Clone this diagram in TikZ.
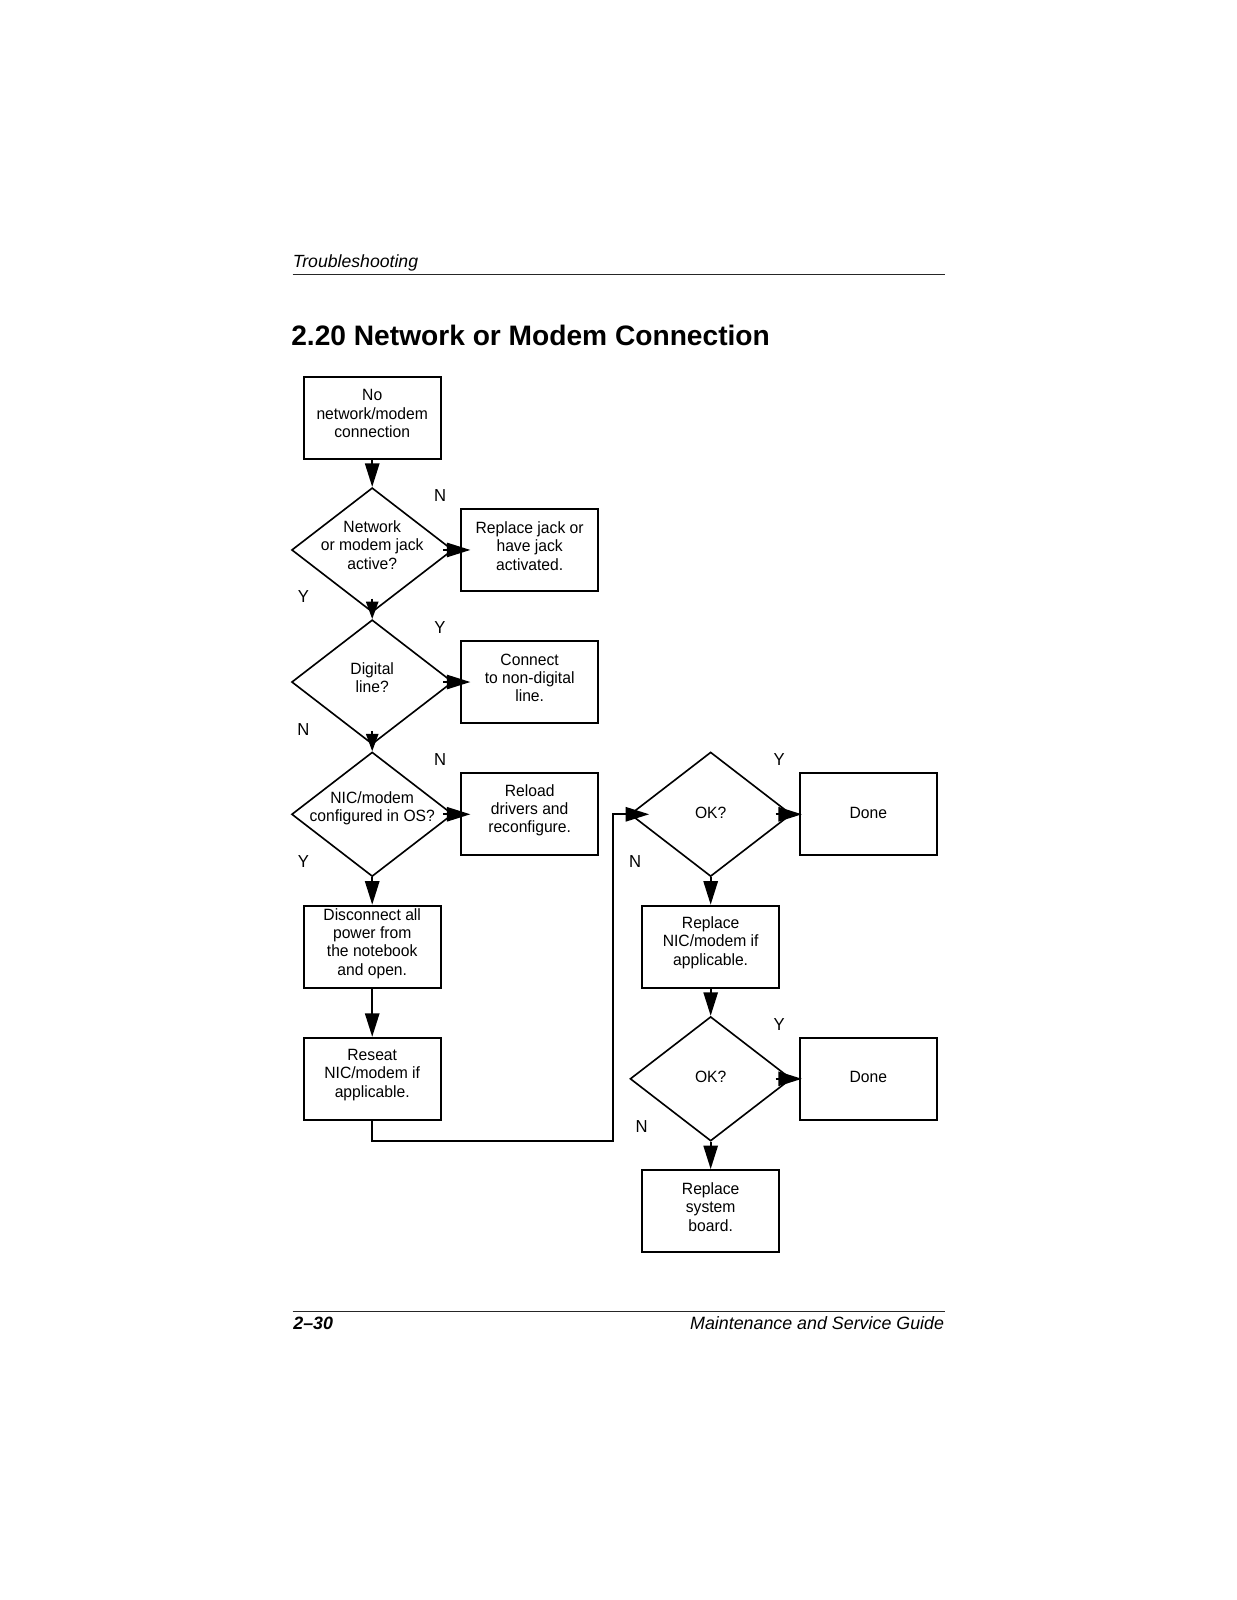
\documentclass[tikz,border=0pt]{standalone}
\usepackage{fontspec}
\setmainfont{Liberation Sans}
\newfontfamily\chartfont{Liberation Sans}[FakeStretch=0.96]
\usetikzlibrary{arrows.meta,shapes.geometric,calc}
\begin{document}
\begin{tikzpicture}[x=1pt,y=-1pt,
  box/.style={draw,line width=1.8pt,minimum width=134.5pt,minimum height=80.5pt,inner sep=0pt},
  btext/.style={align=center,inner sep=0pt,font=\chartfont\fontsize{16}{18}\selectfont},
  dia/.style={draw,shape=diamond,line width=1.6pt,minimum width=158pt,minimum height=122pt,inner sep=0pt},
  yn/.style={inner sep=0pt,font=\chartfont\fontsize{17}{17}\selectfont},
  arr/.style={line width=1.8pt,line join=miter,-{Triangle[length=23pt,width=14pt]}},
  arrshort/.style={line width=1.8pt,-{Triangle[length=17pt,width=12pt]}},
  rule/.style={line width=1.3pt,black!85},
]
\fill[white] (0,0) rectangle (1213,1569);
\useasboundingbox (0,0) rectangle (1213,1569);

% header / title / footer
\node[anchor=base west,inner sep=0pt,font=\fontsize{17.3}{20}\selectfont\itshape] (hdr) at (287,262) {Troubleshooting};
\coordinate (hr1) at (287,269.5);
\coordinate (hr2) at (927,269.5);
\draw[rule] (hr1) -- (hr2);
\node[anchor=base west,inner sep=0pt,font=\fontsize{27.6}{30}\selectfont\bfseries] (title) at (285.5,339) {2.20 Network or Modem Connection};
\coordinate (fr1) at (287,1286);
\coordinate (fr2) at (927,1286);
\draw[rule] (fr1) -- (fr2);
\node[anchor=base west,inner sep=0pt,font=\fontsize{17.5}{20}\selectfont\bfseries\itshape] (pg) at (287.5,1304) {2–30};
\node[anchor=base east,inner sep=0pt,font=\fontsize{17.5}{20}\selectfont\itshape] (guide) at (926,1304) {Maintenance and Service Guide};

% boxes
\node[box] (b1) at (365,409.7) {};
\node[btext] (b1t) at ($(b1)+(0,-4)$) {No\\network/modem\\connection};
\node[box] (rj) at (519.4,539.3) {};
\node[btext] (rjt) at ($(rj)+(0,-4)$) {Replace jack or\\have jack\\activated.};
\node[box] (cn) at (519.4,668.8) {};
\node[btext] (cnt) at ($(cn)+(0,-4)$) {Connect\\to non-digital\\line.};
\node[box] (rl) at (519.4,798.5) {};
\node[btext] (rlt) at ($(rl)+(0,-4)$) {Reload\\drivers and\\reconfigure.};
\node[box] (dc) at (365,928.3) {};
\node[btext] (dct) at ($(dc)+(0,-3)$) {Disconnect all\\power from\\the notebook\\and open.};
\node[box] (rs) at (365,1057.9) {};
\node[btext] (rst) at ($(rs)+(0,-4)$) {Reseat\\NIC/modem if\\applicable.};
\node[box] (dn1) at (851.5,798.5) {};
\node[btext] (dn1t) at ($(dn1)+(0,-1.5)$) {Done};
\node[box] (rn) at (696.9,928.3) {};
\node[btext] (rnt) at ($(rn)+(0,-4)$) {Replace\\NIC/modem if\\applicable.};
\node[box] (dn2) at (851.5,1057.9) {};
\node[btext] (dn2t) at ($(dn2)+(0,-1.5)$) {Done};
\node[box] (sb) at (696.9,1187.6) {};
\node[btext] (sbt) at ($(sb)+(0,-4)$) {Replace\\system\\board.};

% diamonds
\node[dia] (d1) at (365,539.3) {};
\node[btext] (d1t) at ($(d1)+(0,-5)$) {Network\\or modem jack\\active?};
\node[dia] (d2) at (365,668.8) {};
\node[btext] (d2t) at ($(d2)+(0,-4)$) {Digital\\line?};
\node[dia] (d3) at (365,798.5) {};
\node[btext] (d3t) at ($(d3)+(0,-6)$) {NIC/modem\\configured in OS?};
\node[dia] (ok1) at (696.9,798.5) {};
\node[btext] (ok1t) at ($(ok1)+(0,-1.5)$) {OK?};
\node[dia] (ok2) at (696.9,1057.9) {};
\node[btext] (ok2t) at ($(ok2)+(0,-1.5)$) {OK?};

% Y / N labels
\node[yn] (n1) at (431.5,486.4) {N};
\node[yn] (y1) at (297.5,585) {Y};
\node[yn] (y2) at (431.5,615.5) {Y};
\node[yn] (n2) at (297.5,715) {N};
\node[yn] (n3) at (431.5,745) {N};
\node[yn] (y3) at (297.5,844.5) {Y};
\node[yn] (y4) at (764,745) {Y};
\node[yn] (n4) at (622.7,845) {N};
\node[yn] (y5) at (764,1005) {Y};
\node[yn] (n5) at (629.2,1104.8) {N};

% connectors
\draw[arr] (b1.south) -- (d1.north);
\draw[arr] ($(d1.east)+(-10,0)$) -- ($(rj.west)+(10,0)$);
\draw[arrshort] ($(d1.south)+(0,-14)$) -- (d2.north);
\draw[arr] ($(d2.east)+(-10,0)$) -- ($(cn.west)+(10,0)$);
\draw[arrshort] ($(d2.south)+(0,-14)$) -- (d3.north);
\draw[arr] ($(d3.east)+(-10,0)$) -- ($(rl.west)+(10,0)$);
\draw[arr] (d3.south) -- (dc.north);
\draw[arr] (dc.south) -- (rs.north);
\coordinate (c1) at (601,1118.9);
\coordinate (c2) at (601,798.5);
\draw[arr] (rs.south) |- (c1) -- (c2) -- ($(ok1.west)+(19.5,0)$);
\draw[arr] ($(ok1.east)+(-16,0)$) -- ($(dn1.west)+(3,0)$);
\draw[arr] (ok1.south) -- (rn.north);
\draw[arr] (rn.south) -- (ok2.north);
\draw[arr] ($(ok2.east)+(-16,0)$) -- ($(dn2.west)+(3,0)$);
\draw[arr] (ok2.south) -- (sb.north);
\end{tikzpicture}
\end{document}
